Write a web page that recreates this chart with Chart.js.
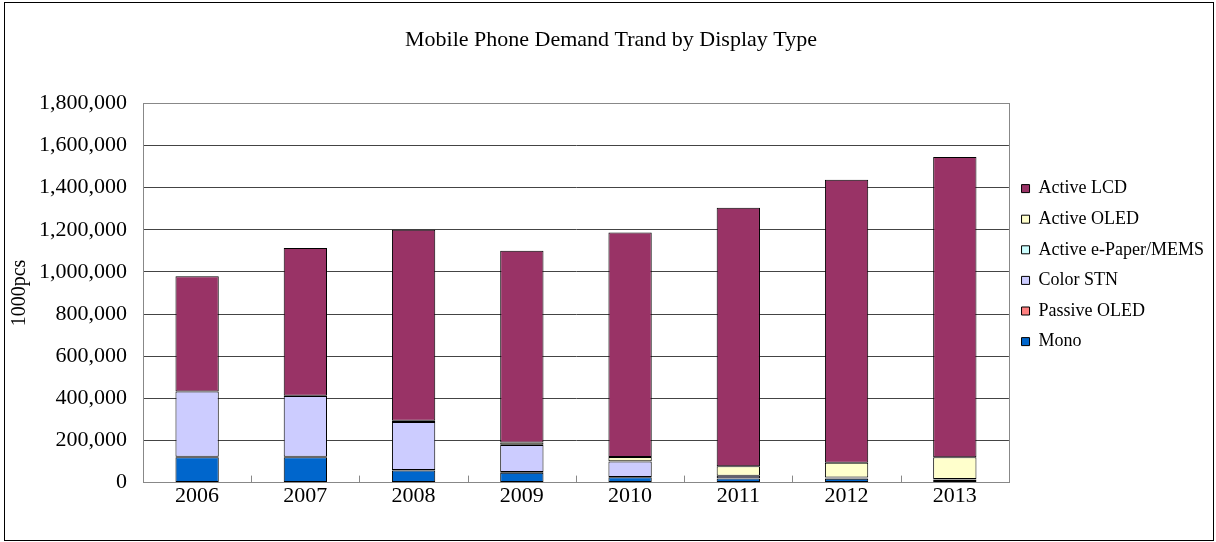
<!DOCTYPE html>
<html>
<head>
<meta charset="utf-8">
<script src="https://cdn.jsdelivr.net/npm/chart.js@4"></script>
<style>
    html, body { margin: 0; padding: 0; background: #fff; }
    #frame {
        position: absolute;
        left: 4px;
        top: 2px;
        width: 1208px;
        height: 537px;
        border: 1px solid #000;
    }
    #frame canvas { display: block; }
</style>
</head>
<body>
<div id="frame">
    <canvas id="demand-chart" width="1208" height="537"></canvas>
</div>
<script>
// values in 1000pcs
const years = ['2006', '2007', '2008', '2009', '2010', '2011', '2012', '2013'];
const mono = [120000, 120000, 57000, 47000, 25000, 19000, 18000, 8000];
const passiveOled = [3000, 3000, 3000, 3000, 2000, 2000, 2000, 5000];
const colorStn = [310000, 288000, 228000, 128000, 73000, 11000, 3000, 3000];
const activeEpaper = [0, 0, 0, 2000, 1000, 1000, 1000, 1000];
const activeOled = [0, 1000, 5000, 10000, 20000, 45000, 70000, 103000];
const activeLcd = [547000, 702000, 907000, 910000, 1066000, 1227000, 1343000, 1425000];
const yTicks = [0, 200000, 400000, 600000, 800000, 1000000, 1200000, 1400000, 1600000, 1800000];

const serif = "'Liberation Serif', 'Times New Roman', serif";

document.addEventListener('DOMContentLoaded', function() {

    function series(label, data, color) {
        return {
            label: label,
            data: data,
            backgroundColor: color,
            borderColor: '#000',
            borderWidth: 1,
            borderSkipped: false,
            barPercentage: 0.4,
            categoryPercentage: 1
        };
    }

    // grey frame round the plot, plus the small inward ticks between years
    const plotFrame = {
        id: 'plotFrame',
        beforeDatasetsDraw(chart) {
            const { ctx, chartArea: a, scales: { x } } = chart;
            ctx.save();
            ctx.strokeStyle = '#888';
            ctx.lineWidth = 1;
            ctx.strokeRect(Math.round(a.left) + 0.5, Math.round(a.top) + 0.5,
                Math.round(a.right - a.left), Math.round(a.bottom - a.top));
            ctx.beginPath();
            for (let i = 0; i <= years.length; i++) {
                const px = Math.round(x.getPixelForValue(i - 0.5)) + 0.5;
                ctx.moveTo(px, a.bottom);
                ctx.lineTo(px, a.bottom - 7);
            }
            ctx.stroke();
            ctx.restore();
        }
    };

    const ctx = document.getElementById('demand-chart').getContext('2d');
    new Chart(ctx, {
        type: 'bar',
        data: {
            labels: years,
            datasets: [
                series('Mono', mono, '#0066CC'),
                series('Passive OLED', passiveOled, '#FF8080'),
                series('Color STN', colorStn, '#CCCCFF'),
                series('Active e-Paper/MEMS', activeEpaper, '#CCFFFF'),
                series('Active OLED', activeOled, '#FFFFCC'),
                series('Active LCD', activeLcd, '#993366')
            ]
        },
        options: {
            responsive: false,
            animation: false,
            layout: { padding: { left: 3, right: -1, top: 0, bottom: 31 } },
            scales: {
                x: {
                    stacked: true,
                    grid: { display: false, drawTicks: false },
                    border: { display: true, color: '#000', width: 1 },
                    ticks: {
                        padding: 0,
                        color: '#000',
                        font: { family: serif, size: 22 }
                    }
                },
                y: {
                    stacked: true,
                    min: 0,
                    max: 1800000,
                    afterBuildTicks: function(axis) {
                        axis.ticks = yTicks.map(v => ({ value: v }));
                    },
                    afterFit: function(axis) {
                        axis.width = 135;
                    },
                    grid: { color: '#444', drawTicks: false },
                    border: { display: true, color: '#000', width: 1 },
                    ticks: {
                        padding: 16,
                        color: '#000',
                        font: { family: serif, size: 22 },
                        callback: v => v.toLocaleString('en-US')
                    },
                    title: {
                        display: true,
                        text: '1000pcs',
                        color: '#000',
                        font: { family: serif, size: 20 },
                        padding: { top: 0, bottom: 4 }
                    }
                }
            },
            plugins: {
                title: {
                    display: true,
                    text: 'Mobile Phone Demand Trand by Display Type',
                    color: '#000',
                    font: { family: serif, size: 22, weight: 'normal' },
                    padding: { top: 24, bottom: 50 }
                },
                legend: {
                    position: 'right',
                    align: 'start',
                    reverse: true,
                    title: {
                        display: true,
                        text: '',
                        font: { size: 10 },
                        padding: { top: 152, bottom: 0 }
                    },
                    labels: {
                        boxWidth: 8,
                        boxHeight: 8,
                        padding: 12.6,
                        color: '#000',
                        font: { family: serif, size: 18 }
                    }
                },
                tooltip: { enabled: false }
            }
        },
        plugins: [plotFrame]
    });
});
</script>
</body>
</html>
